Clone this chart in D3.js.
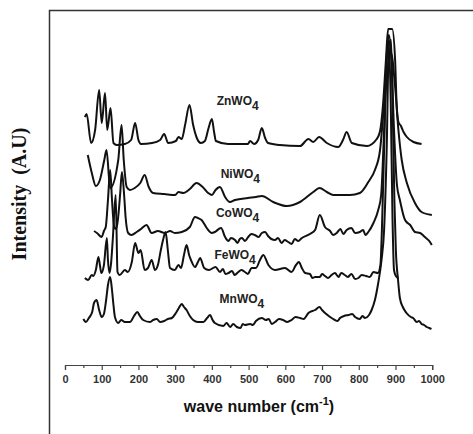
<!DOCTYPE html>
<html lang="en">
<head>
<meta charset="utf-8">
<title>Raman spectra of metal tungstates</title>
<script src="https://d3js.org/d3.v7.min.js"></script>
<style>
  body { margin: 0; background: #fff; }
  svg { display: block; }
</style>
</head>
<body>
<svg id="chart" width="473" height="434"></svg>
<script>
// spectra: [wave number (cm-1), intensity (arbitrary, stacked)]
var znWO4 = [[54,248],[59,251],[71,222],[82,235],[93,275],[100,242],[109,272],[115,235],[124,257],[132,222],[141,220],[163,221],[180,225],[191,242],[200,225],[207,221],[237,222],[259,225],[270,231],[281,222],[302,224],[309,228],[318,226],[327,240],[339,260],[349,240],[359,227],[370,222],[381,224],[391,237],[400,246],[406,233],[411,224],[444,221],[498,221],[504,224],[515,221],[526,225],[536,237],[545,227],[553,222],[585,220],[640,219],[663,226],[676,223],[692,228],[713,222],[744,218],[757,225],[767,233],[781,222],[822,219],[849,226],[858,234],[866,260],[874,305],[880,336],[891,336],[899,305],[903,262],[908,243],[915,239],[922,233],[931,228],[949,223],[971,221]];
var niWO4 = [[62,210],[73,192],[84,179],[95,185],[107,205],[113,215],[123,177],[145,205],[154,240],[160,205],[168,178],[177,175],[190,177],[205,182],[217,190],[228,178],[240,172],[270,171],[300,170],[309,173],[322,172],[340,176],[358,182],[375,178],[390,172],[400,170],[410,175],[422,178],[436,168],[449,163],[463,165],[498,167],[520,168],[536,169],[567,163],[604,159],[640,163],[676,173],[693,177],[713,173],[731,170],[776,170],[803,172],[826,183],[844,195],[858,215],[867,252],[876,285],[888,312],[899,278],[908,235],[917,205],[931,182],[953,162],[971,153],[999,150]];
var coWO4 = [[79,134],[87,132],[100,128],[106,134],[111,138],[117,165],[123,195],[128,165],[134,138],[139,136],[144,145],[150,170],[155,193],[161,170],[165,148],[172,132],[181,130],[195,133],[207,136],[222,140],[236,132],[253,134],[272,132],[286,134],[299,132],[318,133],[340,138],[354,148],[362,147],[372,145],[386,137],[400,132],[408,133],[425,137],[436,128],[445,124],[452,127],[463,125],[470,122],[476,126],[482,127],[490,124],[499,128],[508,131],[517,130],[527,128],[536,132],[545,133],[553,129],[562,126],[572,125],[580,127],[590,122],[598,125],[608,123],[617,121],[626,126],[635,124],[645,127],[667,131],[681,135],[694,150],[708,138],[722,134],[730,130],[740,132],[750,136],[758,131],[767,135],[780,137],[790,132],[803,133],[812,135],[818,130],[826,133],[840,142],[853,155],[861,170],[869,235],[877,315],[882,330],[889,305],[896,235],[904,180],[912,165],[926,145],[940,140],[953,133],[967,132],[980,128],[994,123],[999,120]];
var feWO4 = [[54,87],[63,85],[73,90],[77,89],[84,95],[91,108],[95,100],[99,92],[106,100],[114,127],[117,105],[121,92],[125,100],[130,125],[138,170],[143,93],[149,90],[163,95],[171,93],[182,103],[191,122],[200,112],[206,115],[217,95],[226,97],[236,105],[245,95],[253,100],[261,115],[267,125],[274,133],[280,115],[286,97],[299,95],[309,100],[316,97],[324,110],[331,120],[338,110],[343,105],[354,98],[362,103],[368,107],[379,97],[392,95],[410,98],[422,93],[430,96],[437,91],[445,92],[455,94],[462,90],[472,93],[480,95],[490,93],[498,91],[508,97],[520,97],[531,105],[540,110],[554,100],[572,95],[599,97],[617,93],[629,100],[637,103],[645,97],[654,92],[667,91],[674,87],[681,88],[694,88],[700,91],[708,89],[716,87],[726,90],[735,92],[745,88],[752,92],[762,90],[770,88],[780,91],[790,86],[799,87],[808,90],[820,89],[830,88],[840,93],[852,92],[859,100],[863,135],[869,215],[876,305],[881,325],[887,265],[892,145],[896,95],[901,89],[908,87]];
var mnWO4 = [[50,46],[57,43],[65,47],[74,53],[79,62],[86,65],[93,55],[100,48],[106,51],[112,65],[117,80],[123,88],[128,75],[132,60],[136,48],[145,42],[153,45],[163,43],[177,43],[188,49],[197,53],[204,49],[213,45],[231,43],[240,45],[250,46],[259,43],[270,44],[280,46],[291,47],[302,52],[310,57],[318,61],[324,58],[331,55],[340,49],[349,45],[362,43],[377,43],[387,47],[395,50],[402,45],[408,42],[431,39],[440,42],[450,38],[458,41],[468,38],[478,37],[484,41],[490,40],[504,41],[512,40],[520,44],[536,47],[547,45],[555,46],[563,41],[572,43],[583,46],[594,45],[605,43],[617,45],[628,48],[640,47],[650,46],[663,52],[681,55],[693,58],[700,55],[708,52],[715,50],[722,48],[735,45],[742,44],[749,47],[760,49],[772,50],[782,51],[790,48],[803,46],[810,49],[817,47],[828,50],[835,55],[844,65],[853,82],[862,105],[869,135],[876,215],[882,320],[888,325],[893,245],[897,165],[901,115],[907,85],[912,67],[920,58],[930,52],[942,48],[948,47],[958,43],[964,44],[971,41],[978,40],[985,38],[992,37],[998,36]];

// series names and where their labels sit [wave number, intensity]
var seriesNames = ["ZnWO", "NiWO", "CoWO", "FeWO", "MnWO"];
var labelAt = [[413,260],[424,187],[411,148],[407,106],[421,62]];

var svg = d3.select("#chart");

var x = d3.scaleLinear().domain([0, 1000]).range([65, 432.2]);
var y = d3.scaleLinear().domain([0, 355]).range([365, 10]);

//frame (only left and top edges show)
svg.append("path")
  .attr("d", "M49.5,434V10.5H473")
  .attr("fill", "none")
  .attr("stroke", "#333")
  .attr("stroke-width", 1.5);

//x axis, labels every 100, minor ticks at the 50s
var xAxis = d3.axisBottom(x)
  .tickValues(d3.range(0, 1001, 50))
  .tickSize(5)
  .tickFormat(function (d) { return d % 100 == 0 ? d : ""; });

var gx = svg.append("g")
  .attr("transform", "translate(0," + y(0) + ")")
  .call(xAxis);
gx.select(".domain").attr("stroke", "#444").attr("stroke-width", 1.2);
gx.selectAll(".tick line").attr("stroke", "#444").attr("stroke-width", 1.2);
gx.selectAll(".tick").filter(function (d) { return d % 100 != 0; })
  .select("line").attr("y2", 3);
gx.selectAll(".tick text")
  .attr("font-family", "Arial, 'Liberation Sans', sans-serif")
  .attr("font-size", 11)
  .attr("font-weight", "bold")
  .attr("fill", "#333")
  .attr("dy", "0.9em");

//axis titles
var xt = svg.append("text")
  .attr("x", 259)
  .attr("y", 412)
  .attr("text-anchor", "middle")
  .attr("font-family", "Arial, 'Liberation Sans', sans-serif")
  .attr("font-size", 16)
  .attr("font-weight", "bold")
  .attr("fill", "#111");
xt.append("tspan").text("wave number (cm");
xt.append("tspan").attr("dy", -7).attr("font-size", 11).text("-1");
xt.append("tspan").attr("dy", 7).text(")");

svg.append("text")
  .attr("transform", "translate(26,194) rotate(-90)")
  .attr("text-anchor", "middle")
  .attr("font-family", "'Liberation Serif', 'Times New Roman', serif")
  .attr("font-size", 20)
  .attr("font-weight", "bold")
  .attr("fill", "#111")
  .text("Intensity\u00a0\u00a0(A.U)");

//spectra
var line = d3.line()
  .x(function (d) { return x(d[0]); })
  .y(function (d) { return y(d[1]); })
  .curve(d3.curveMonotoneX);

[znWO4, niWO4, coWO4, feWO4, mnWO4].forEach(function (s) {
  svg.append("path")
    .datum(s)
    .attr("d", line)
    .attr("fill", "none")
    .attr("stroke", "#111")
    .attr("stroke-width", 2)
    .attr("stroke-linejoin", "round");
});

//series labels with subscript 4
seriesNames.forEach(function (name, i) {
  var t = svg.append("text")
    .attr("x", x(labelAt[i][0]))
    .attr("y", y(labelAt[i][1]))
    .attr("font-family", "Arial, 'Liberation Sans', sans-serif")
    .attr("font-size", 12)
    .attr("font-weight", "bold")
    .attr("fill", "#222");
  t.append("tspan").text(name);
  t.append("tspan").attr("dy", 5).attr("font-size", 12).text("4");
});
</script>
</body>
</html>
